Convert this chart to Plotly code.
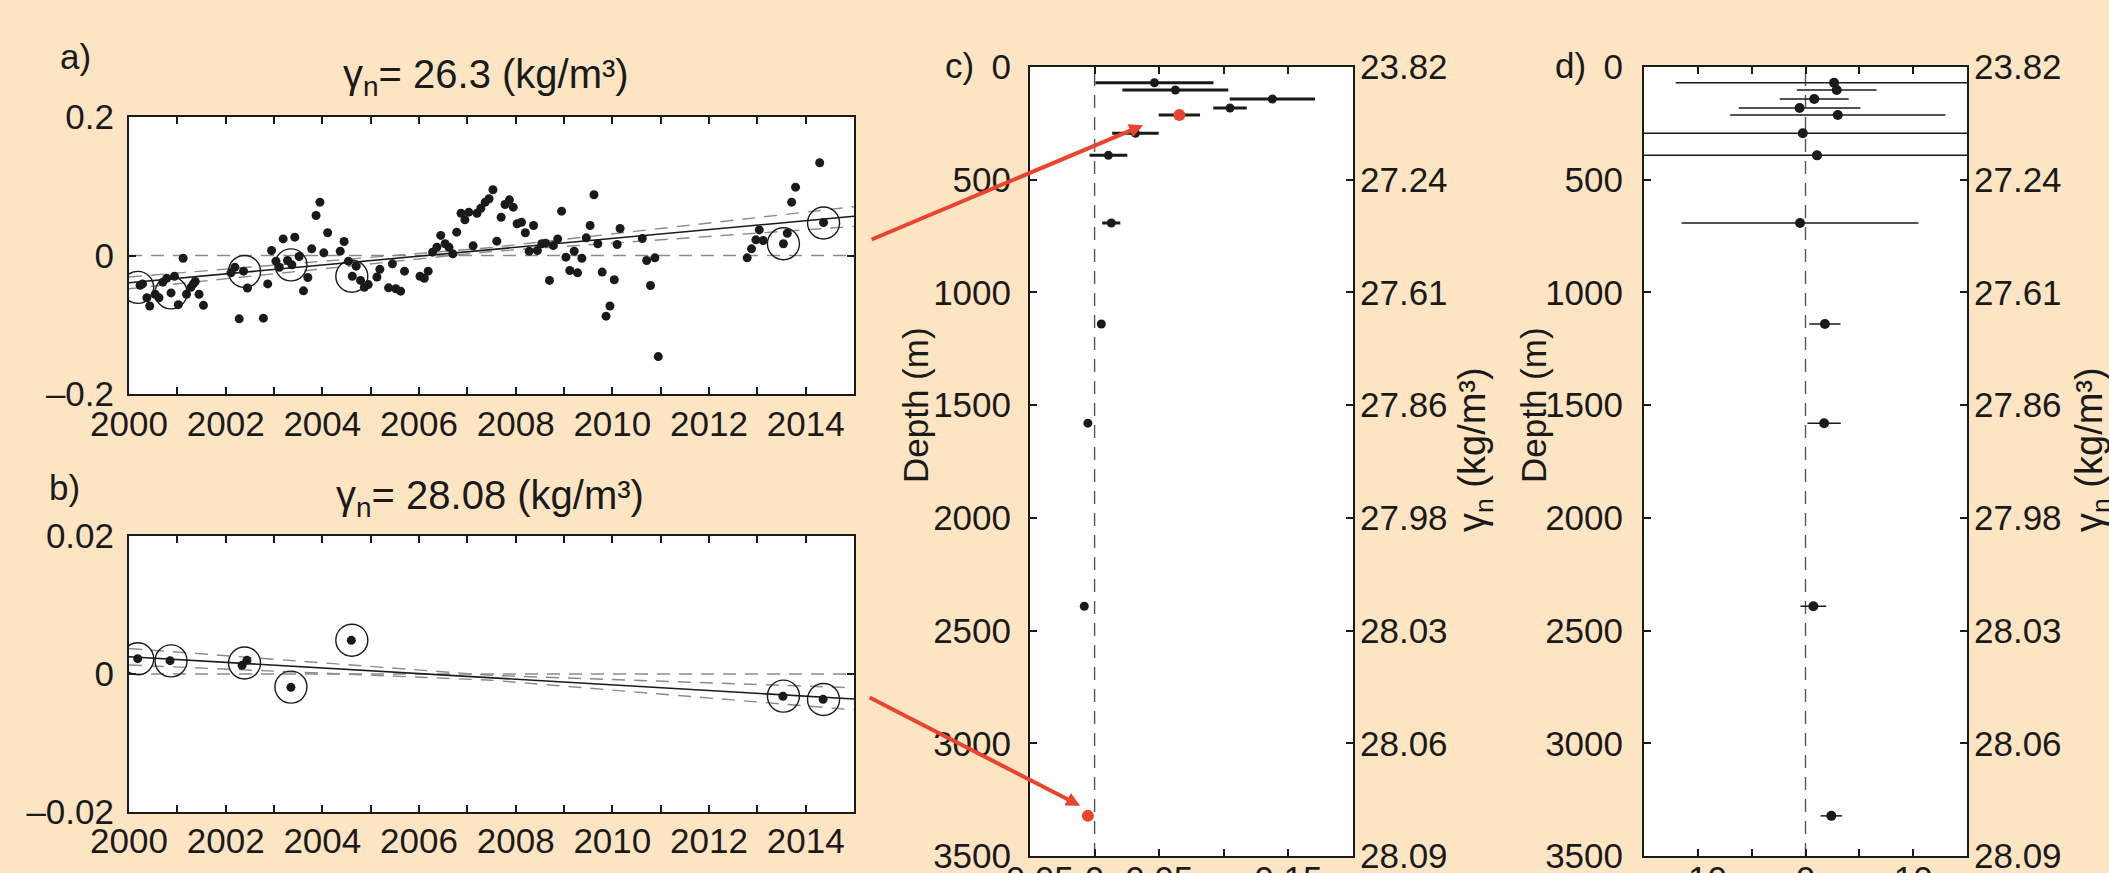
import plotly.graph_objects as go

W, H = 2109, 873
BG = "#FDE5C4"
INK = "#1a1a1a"
RED = "#E8452C"
GREY = "#8a8a8a"
FONT = "Liberation Sans, Arial, Helvetica, sans-serif"

# ---- a) neutral-density anomaly on the 26.3 surface (float profiles) ----
years_a = [
    2000.23, 2000.28, 2000.37, 2000.43, 2000.54, 2000.62, 2000.70, 2000.78, 2000.87, 2000.94,
    2001.02, 2001.12, 2001.19, 2001.28, 2001.33, 2001.37, 2001.45, 2001.54, 2002.11, 2002.19,
    2002.28, 2002.37, 2002.45, 2002.78, 2002.87, 2002.95, 2003.04, 2003.11, 2003.19, 2003.28,
    2003.37, 2003.43, 2003.52, 2003.61, 2003.70, 2003.78, 2003.87, 2003.95, 2004.03, 2004.11,
    2004.37, 2004.45, 2004.54, 2004.62, 2004.70, 2004.79, 2004.87, 2004.95, 2005.13, 2005.19,
    2005.37, 2005.45, 2005.52, 2005.62, 2005.70, 2006.02, 2006.11, 2006.19, 2006.28, 2006.37,
    2006.45, 2006.54, 2006.62, 2006.70, 2006.78, 2006.87, 2006.95, 2007.03, 2007.12, 2007.20,
    2007.28, 2007.37, 2007.45, 2007.53, 2007.61, 2007.70, 2007.78, 2007.87, 2007.95, 2008.03,
    2008.12, 2008.20, 2008.28, 2008.37, 2008.45, 2008.54, 2008.62, 2008.70, 2008.78, 2008.87,
    2008.95, 2009.04, 2009.12, 2009.21, 2009.28, 2009.37, 2009.46, 2009.54, 2009.62, 2009.70,
    2009.79, 2009.87, 2009.95, 2010.04, 2010.10, 2010.16, 2010.62, 2010.71, 2010.79, 2010.88,
    2010.95, 2012.79, 2012.88, 2012.97, 2013.04, 2013.12, 2013.54, 2013.62, 2013.71, 2013.79,
    2014.29, 2014.37,
]
anom_a = [
    -0.043, -0.041, -0.061, -0.073, -0.056, -0.061, -0.0385, -0.033, -0.054, -0.030,
    -0.071, -0.004, -0.056, -0.046, -0.041, -0.0375, -0.056, -0.072, -0.025, -0.017,
    -0.0915, -0.0226, -0.047, -0.0905, -0.041, 0.0072, -0.0082, -0.017, 0.024, -0.0072,
    -0.0135, 0.0265, -0.0014, -0.051, -0.0318, 0.0096, 0.0578, 0.077, 0.0038, 0.0328,
    0.0063, 0.0202, -0.0082, -0.030, -0.0154, -0.036, -0.046, -0.042, -0.031, -0.020,
    -0.0467, -0.012, -0.048, -0.0515, -0.0226, -0.030, -0.0328, -0.0226, 0.0048, 0.012,
    0.029, 0.0169, 0.012, 0.0024, 0.0337, 0.061, 0.0515, 0.0626, 0.014, 0.061,
    0.0683, 0.077, 0.082, 0.095, 0.0207, 0.0553, 0.0737, 0.0804, 0.0698, 0.0458,
    0.048, 0.0328, 0.0063, 0.0433, 0.0072, 0.0169, 0.0178, -0.036, 0.0144, 0.024,
    0.064, -0.0024, -0.0217, 0.0063, -0.025, -0.0039, 0.0255, 0.0433, 0.0877, 0.0169,
    -0.024, -0.0876, -0.073, -0.035, 0.0159, 0.039, 0.0246, -0.0072, -0.0433, -0.0034,
    -0.146, -0.0034, 0.0096, 0.0226, 0.037, 0.0217, 0.0169, 0.0322, 0.077, 0.0987,
    0.134, 0.0477,
]
section_years = [2000.18, 2000.87, 2002.39, 2003.35, 2004.61, 2013.54, 2014.37]
section_a = [-0.046, -0.054, -0.023, -0.0135, -0.030, 0.017, 0.047]
trend_years = [2000, 2015]
trend_a = [-0.0394, 0.0566]
band_years = [2000, 2007.5, 2015]
band_a_hi = [-0.031, 0.0115, 0.0705]
band_a_lo = [-0.048, 0.0058, 0.042]

# ---- b) anomaly on the 28.08 surface (repeat sections) ----
years_b = [2000.18, 2000.85, 2002.34, 2002.44, 2003.35, 2004.60, 2013.53, 2014.36]
anom_b = [0.00222, 0.00193, 0.00126, 0.00198, -0.00193, 0.00488, -0.00323, -0.00367]
section_b = [0.0022, 0.0019, 0.0016, -0.0019, 0.0049, -0.0032, -0.0037]
trend_b = [0.00251, -0.00362]
band_b_hi = [0.0037, -0.0002, -0.0020]
band_b_lo = [0.0013, -0.0009, -0.0052]

# ---- c) / d) profiles of trend versus depth ----
depth = [70, 102, 142, 182, 213, 294, 392, 692, 1140, 1580, 2392, 3322]
trend_c = [0.0463, 0.0625, 0.1376, 0.1048, 0.0656, 0.0316, 0.0107, 0.0129, 0.0052, -0.0052, -0.008, -0.0052]
err_c = [0.0457, 0.041, 0.033, 0.013, 0.016, 0.018, 0.0146, 0.007, 0.002, 0.001, 0.001, 0.001]
trend_d = [2.65, 2.9, 0.81, -0.55, 3.0, -0.25, 1.07, -0.51, 1.8, 1.73, 0.73, 2.4]
err_d = [14.7, 3.7, 3.2, 5.65, 10.0, 20.0, 20.0, 11.0, 1.45, 1.55, 1.2, 1.0]
highlight = [4, 11]

depth_ticks = [0, 500, 1000, 1500, 2000, 2500, 3000, 3500]
gamma_ticks = ["23.82", "27.24", "27.61", "27.86", "27.98", "28.03", "28.06", "28.09"]
year_major = list(range(2000, 2015, 2))
year_minor = list(range(2001, 2015, 2))


def xdom(p0, p1):
    return [p0 / W, p1 / W]


def ydom(top, bottom):
    return [1 - bottom / H, 1 - top / H]


tick_font = dict(family=FONT, size=35, color=INK)
axis_common = dict(
    showline=True, linecolor=INK, linewidth=2, mirror="allticks",
    ticks="inside", ticklen=7, tickwidth=1.5, tickcolor=INK,
    showgrid=False, zeroline=False, tickfont=tick_font, automargin=False,
    ticklabeloverflow="allow",
)


def minor_ticks(vals):
    return dict(tickmode="array", tickvals=vals, ticks="inside", ticklen=7,
                tickwidth=1.5, tickcolor=INK, showgrid=False)


fig = go.Figure()

dash_line = dict(color=GREY, width=1.4, dash="13px,9px")

# panel a
for band in (band_a_hi, band_a_lo):
    fig.add_trace(go.Scatter(x=band_years, y=band, mode="lines", line=dash_line,
                             xaxis="x", yaxis="y", hoverinfo="skip"))
fig.add_trace(go.Scatter(x=trend_years, y=trend_a, mode="lines", line=dict(color=INK, width=1.6),
                         xaxis="x", yaxis="y"))
fig.add_trace(go.Scatter(x=years_a, y=anom_a, mode="markers",
                         marker=dict(size=9, color=INK), xaxis="x", yaxis="y"))
fig.add_trace(go.Scatter(x=section_years, y=section_a, mode="markers",
                         marker=dict(size=32, symbol="circle-open", color=INK, line=dict(width=1.4)),
                         xaxis="x", yaxis="y"))

# panel b
for band in (band_b_hi, band_b_lo):
    fig.add_trace(go.Scatter(x=band_years, y=band, mode="lines", line=dash_line,
                             xaxis="x2", yaxis="y2", hoverinfo="skip"))
fig.add_trace(go.Scatter(x=trend_years, y=trend_b, mode="lines", line=dict(color=INK, width=1.6),
                         xaxis="x2", yaxis="y2"))
fig.add_trace(go.Scatter(x=years_b, y=anom_b, mode="markers",
                         marker=dict(size=9, color=INK), xaxis="x2", yaxis="y2"))
fig.add_trace(go.Scatter(x=section_years, y=section_b, mode="markers",
                         marker=dict(size=32, symbol="circle-open", color=INK, line=dict(width=1.4)),
                         xaxis="x2", yaxis="y2"))

# panel c
fig.add_trace(go.Scatter(x=trend_c, y=depth, mode="markers",
                         error_x=dict(type="data", array=err_c, color=INK, thickness=3, width=0),
                         marker=dict(size=9, color=INK), xaxis="x3", yaxis="y3"))
fig.add_trace(go.Scatter(x=[trend_c[i] for i in highlight], y=[depth[i] for i in highlight],
                         mode="markers", marker=dict(size=12, color=RED), xaxis="x3", yaxis="y3"))
fig.add_trace(go.Scatter(x=trend_c, y=depth, mode="markers", marker=dict(opacity=0),
                         xaxis="x3", yaxis="y5", hoverinfo="skip"))

# panel d
fig.add_trace(go.Scatter(x=trend_d, y=depth, mode="markers",
                         error_x=dict(type="data", array=err_d, color=INK, thickness=1.5, width=0),
                         marker=dict(size=10, color=INK), xaxis="x4", yaxis="y4"))
fig.add_trace(go.Scatter(x=trend_d, y=depth, mode="markers", marker=dict(opacity=0),
                         xaxis="x4", yaxis="y6", hoverinfo="skip"))

dom_ab = xdom(129, 854)
dom_c = xdom(1030, 1353)
dom_d = xdom(1644, 1967)
dom_cd_y = ydom(67, 856)

fig.update_layout(
    width=W, height=H,
    margin=dict(l=0, r=0, t=0, b=0, autoexpand=False),
    paper_bgcolor=BG, plot_bgcolor="white",
    showlegend=False,
    font=dict(family=FONT, color=INK, size=35),
    xaxis=dict(axis_common, domain=dom_ab, anchor="y", range=[2000, 2015],
               tickvals=year_major, minor=minor_ticks(year_minor), ticklabelstandoff=-2),
    yaxis=dict(axis_common, domain=ydom(117, 394), anchor="x", range=[-0.2, 0.2],
               tickvals=[-0.2, 0, 0.2], ticktext=["\u20130.2", "0", "0.2"], ticklabelstandoff=6),
    xaxis2=dict(axis_common, domain=dom_ab, anchor="y2", range=[2000, 2015],
                tickvals=year_major, minor=minor_ticks(year_minor), ticklabelstandoff=-3),
    yaxis2=dict(axis_common, domain=ydom(536, 812), anchor="x2", range=[-0.02, 0.02],
                tickvals=[-0.02, 0, 0.02], ticktext=["\u20130.02", "0", "0.02"], ticklabelstandoff=6),
    xaxis3=dict(axis_common, domain=dom_c, anchor="y3", range=[-0.05, 0.2],
                tickvals=[-0.05, 0, 0.05, 0.15], ticktext=["\u20130.05", "0", "0.05", "0.15"],
                minor=minor_ticks([0.1]), ticklabelstandoff=-9),
    yaxis3=dict(axis_common, domain=dom_cd_y, anchor="x3", range=[3500, 0],
                tickvals=depth_ticks, ticklabelstandoff=10),
    yaxis5=dict(axis_common, overlaying="y3", anchor="x3", side="right", range=[3500, 0],
                showline=False, tickvals=depth_ticks, ticktext=gamma_ticks, ticklabelstandoff=6),
    xaxis4=dict(axis_common, domain=dom_d, anchor="y4", range=[-15, 15],
                tickvals=[-10, 0, 10], ticktext=["\u201310", "0", "10"],
                minor=minor_ticks([-5, 5]), ticklabelstandoff=-9),
    yaxis4=dict(axis_common, domain=dom_cd_y, anchor="x4", range=[3500, 0],
                tickvals=depth_ticks, ticklabelstandoff=12),
    yaxis6=dict(axis_common, overlaying="y4", anchor="x4", side="right", range=[3500, 0],
                showline=False, tickvals=depth_ticks, ticktext=gamma_ticks, ticklabelstandoff=6),
)

# zero reference lines
zero_dash = dict(color=GREY, width=1.4, dash="13px,9px")
fig.add_shape(type="line", xref="x domain", yref="y", x0=0, x1=1, y0=0, y1=0, line=zero_dash, layer="below")
fig.add_shape(type="line", xref="x2 domain", yref="y2", x0=0, x1=1, y0=0, y1=0, line=zero_dash, layer="below")
fig.add_shape(type="line", xref="x3", yref="y3 domain", x0=0, x1=0, y0=0, y1=1,
              line=dict(color="#555555", width=1.4, dash="13px,9px"), layer="below")
fig.add_shape(type="line", xref="x4", yref="y4 domain", x0=0, x1=0, y0=0, y1=1,
              line=dict(color="#555555", width=1.4, dash="13px,9px"), layer="below")


def paper_text(px, py, text, size=35, angle=0, xanchor="center"):
    fig.add_annotation(x=px / W, y=1 - py / H, xref="paper", yref="paper", text=text,
                       showarrow=False, textangle=angle, xanchor=xanchor, yanchor="middle",
                       font=dict(family=FONT, size=size, color=INK))


# panel letters and titles
paper_text(75, 57, "a)")
paper_text(64, 487, "b)")
paper_text(959, 66, "c)")
paper_text(1570, 66, "d)")
paper_text(486, 77, "\u03b3<sub>n</sub>= 26.3 (kg/m\u00b3)", size=40)
paper_text(490, 498, "\u03b3<sub>n</sub>= 28.08 (kg/m\u00b3)", size=40)

# axis titles
paper_text(915, 405, "Depth (m)", angle=-90)
paper_text(1533, 405, "Depth (m)", angle=-90)
paper_text(1475, 450, "\u03b3<sub>n</sub> (kg/m\u00b3)", size=38, angle=-90)
paper_text(2092, 450, "\u03b3<sub>n</sub> (kg/m\u00b3)", size=38, angle=-90)

# arrows linking the time series to their levels in panel c
arrow_style = dict(showarrow=True, arrowcolor=RED, arrowwidth=4, arrowhead=2, arrowsize=0.7,
                   text="", xref="x3", yref="y3", standoff=0)
up, low = highlight
fig.add_annotation(x=trend_c[up] - 0.028, y=depth[up] + 45, ax=-273, ay=115, **arrow_style)
fig.add_annotation(x=trend_c[low] - 0.006, y=depth[low] - 45, ax=-212, ay=-109, **arrow_style)

fig.write_html("out.html")
